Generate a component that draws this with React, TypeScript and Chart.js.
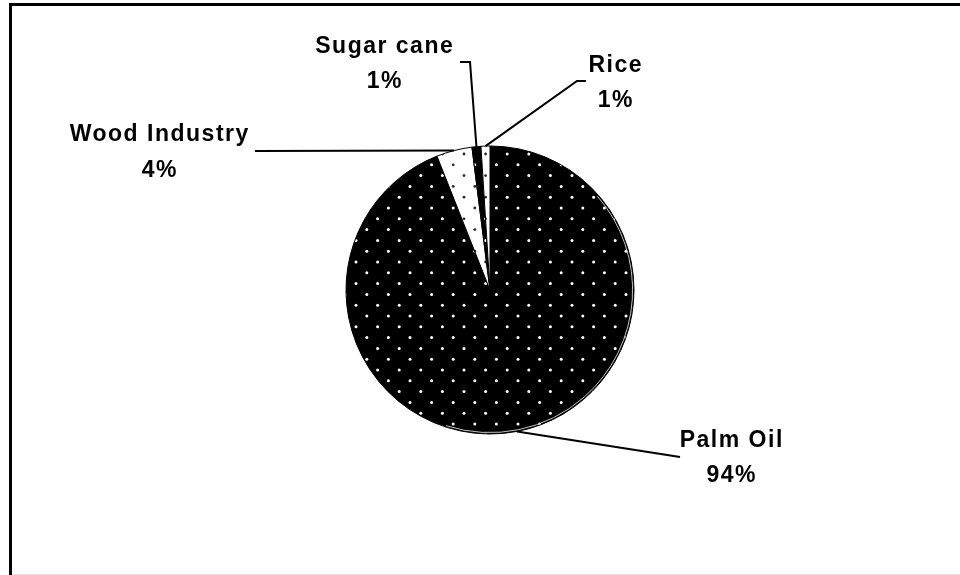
import React, { useEffect, useRef } from "react";
import { Chart, registerables } from "chart.js";

Chart.register(...registerables);

// Sources of emissions, clockwise from twelve o'clock
const categories = ["Palm Oil", "Wood Industry", "Sugar cane", "Rice"];
const shares = [94, 4, 1, 1];
const percentLabels = shares.map((v) => `${v}%`);

const W = 960;
const H = 575;

// Staggered dot texture spanning the whole canvas
function dotTexture(bg: string, dot: string, r: number): HTMLCanvasElement {
  const c = document.createElement("canvas");
  c.width = W;
  c.height = H;
  const g = c.getContext("2d")!;
  g.fillStyle = bg;
  g.fillRect(0, 0, W, H);
  g.fillStyle = dot;
  const P = 21.6;
  const R = P / 2;
  for (let j = 0; 2.8 + j * R < H + R; j++) {
    const y = 2.8 + j * R;
    const off = j % 2 === 0 ? 0 : R;
    for (let x = 10.4 + off - P; x < W + P; x += P) {
      g.beginPath();
      g.arc(x, y, r, 0, Math.PI * 2);
      g.fill();
    }
  }
  return c;
}

// Callout layout: label centre, first/second baselines, and leader path from the label side
const callouts = [
  { cx: 731, b1: 447, b2: 482, path: [[680, 457]] },
  { cx: 159, b1: 141, b2: 177, path: [[255, 151]] },
  { cx: 384, b1: 53, b2: 88, path: [[460, 62], [470, 62]] },
  { cx: 615, b1: 72, b2: 107, path: [[586, 81], [577, 81]] },
];

const calloutPlugin = {
  id: "callouts",
  afterDraw(chart: any) {
    const ctx = chart.ctx as CanvasRenderingContext2D;
    const arcs = chart.getDatasetMeta(0).data;
    ctx.save();

    // light rim inside the edge of the large slice, right and lower side
    const a0 = arcs[0];
    ctx.strokeStyle = "rgba(215,215,215,0.9)";
    ctx.lineWidth = 1;
    ctx.beginPath();
    ctx.arc(a0.x, a0.y, a0.outerRadius - 1.4, -0.72, Math.PI * 0.6);
    ctx.stroke();

    ctx.strokeStyle = "#000";
    ctx.lineWidth = 2;
    arcs.forEach((arc: any, i: number) => {
      const mid = (arc.startAngle + arc.endAngle) / 2;
      const px = arc.x + Math.cos(mid) * arc.outerRadius;
      const py = arc.y + Math.sin(mid) * arc.outerRadius;
      const pts = callouts[i].path;
      ctx.beginPath();
      ctx.moveTo(pts[0][0], pts[0][1]);
      for (let k = 1; k < pts.length; k++) ctx.lineTo(pts[k][0], pts[k][1]);
      ctx.lineTo(px, py);
      ctx.stroke();
    });

    ctx.fillStyle = "#000";
    ctx.font = "bold 23px 'Liberation Sans', Arial, sans-serif";
    (ctx as any).letterSpacing = "1.5px";
    ctx.textAlign = "center";
    ctx.textBaseline = "alphabetic";
    categories.forEach((name, i) => {
      const c = callouts[i];
      ctx.fillText(name, c.cx + 0.75, c.b1);
      ctx.fillText(percentLabels[i], c.cx + 0.75, c.b2);
    });
    (ctx as any).letterSpacing = "0px";

    // frame
    ctx.strokeStyle = "#000";
    ctx.lineWidth = 3;
    ctx.beginPath();
    ctx.moveTo(10.5, H + 5);
    ctx.lineTo(10.5, 4.5);
    ctx.lineTo(W + 5, 4.5);
    ctx.stroke();
    ctx.strokeStyle = "#e2e2e2";
    ctx.lineWidth = 1;
    ctx.beginPath();
    ctx.moveTo(12, H - 0.5);
    ctx.lineTo(W, H - 0.5);
    ctx.stroke();
    ctx.restore();
  },
};

const whiteBg = {
  id: "whiteBg",
  beforeDraw(chart: any) {
    const ctx = chart.ctx;
    ctx.save();
    ctx.fillStyle = "#fff";
    ctx.fillRect(0, 0, chart.width, chart.height);
    ctx.restore();
  },
};

export default function App() {
  const ref = useRef<HTMLCanvasElement>(null);

  useEffect(() => {
    const canvas = ref.current!;
    const ctx = canvas.getContext("2d")!;
    const darkDots = ctx.createPattern(dotTexture("#000", "#ffffff", 1.5), "no-repeat")!;
    const lightDots = ctx.createPattern(dotTexture("#fff", "#2a2a2a", 1.4), "no-repeat")!;

    const chart = new Chart(canvas, {
      type: "pie",
      data: {
        labels: categories,
        datasets: [
          {
            data: shares,
            backgroundColor: [darkDots, lightDots, darkDots, lightDots],
            borderColor: "#000",
            borderWidth: 1,
            radius: 144,
          },
        ],
      },
      options: {
        responsive: false,
        animation: false,
        devicePixelRatio: 1,
        layout: { padding: { left: 340, right: 320, top: 140, bottom: 135 } },
        plugins: {
          legend: { display: false },
          tooltip: { enabled: false },
        },
      },
      plugins: [whiteBg, calloutPlugin],
    });
    return () => chart.destroy();
  }, []);

  return (
    <div style={{ position: "fixed", left: 0, top: 0, width: W, height: H, background: "#fff" }}>
      <canvas ref={ref} width={W} height={H} style={{ display: "block", width: W, height: H }} />
    </div>
  );
}
